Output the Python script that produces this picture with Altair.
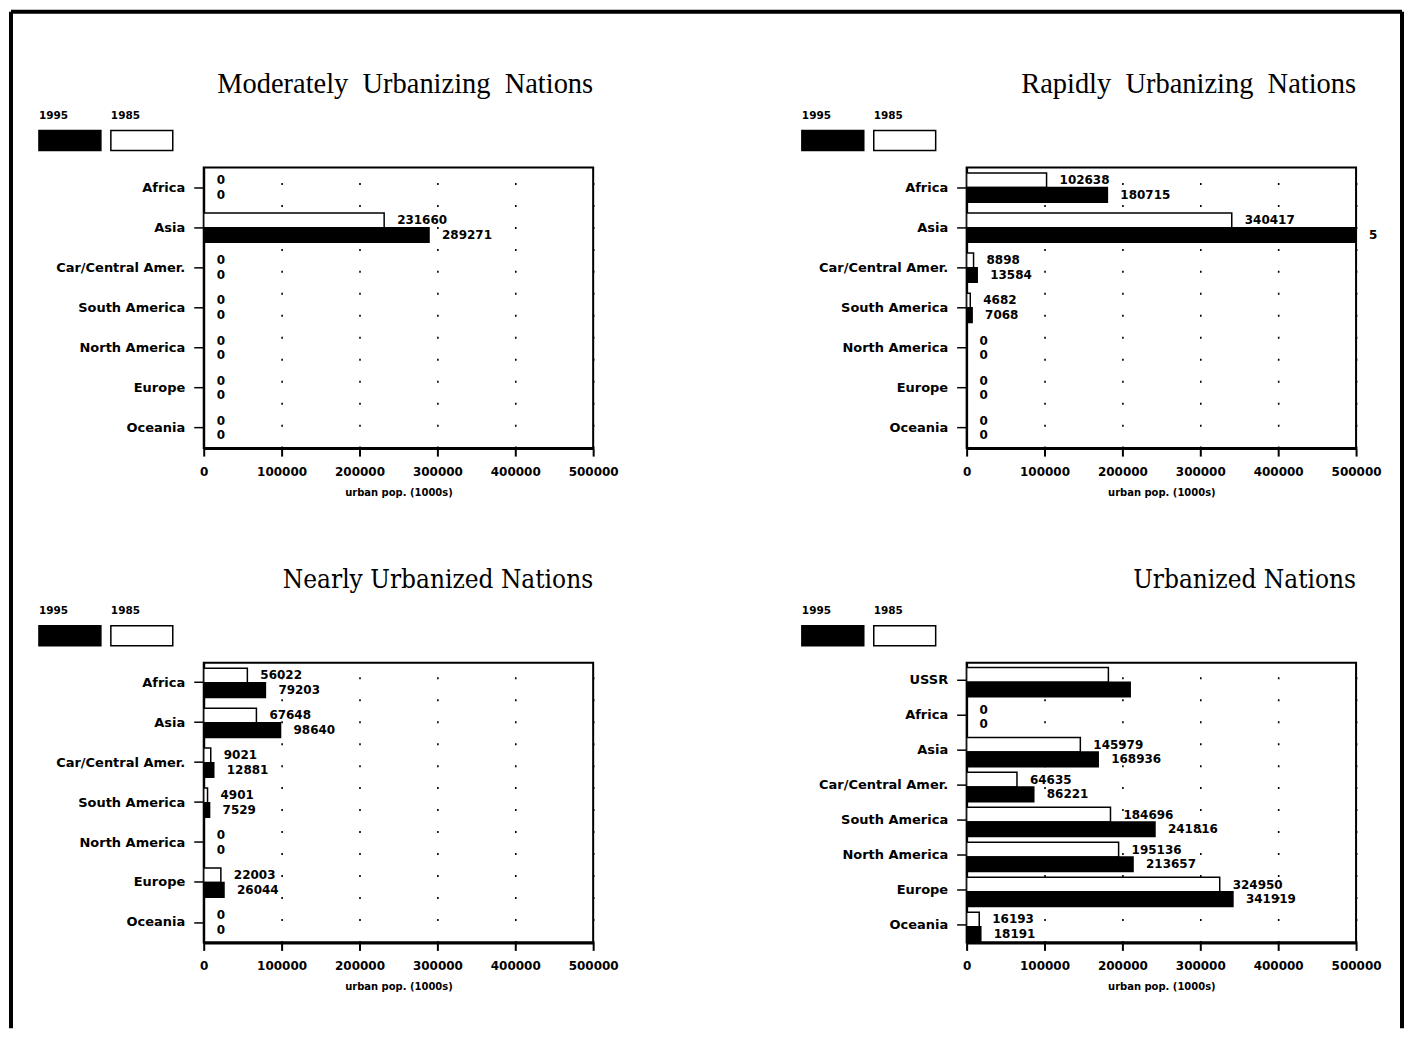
import altair as alt
import pandas as pd

# ---------------- data ----------------
regions = ["Africa", "Asia", "Car/Central Amer.", "South America",
           "North America", "Europe", "Oceania"]
regions_urbanized = ["USSR", "Africa", "Asia", "Car/Central Amer.",
                     "South America", "North America", "Europe", "Oceania"]
years = ["1985", "1995"]
legend_years = ["1995", "1985"]

titles = ["Moderately Urbanizing Nations", "Rapidly Urbanizing Nations",
          "Nearly Urbanized Nations", "Urbanized Nations"]

moderate_1985 = [0, 231660, 0, 0, 0, 0, 0]
moderate_1995 = [0, 289271, 0, 0, 0, 0, 0]
moderate_lab_1985 = ["0", "231660", "0", "0", "0", "0", "0"]
moderate_lab_1995 = ["0", "289271", "0", "0", "0", "0", "0"]

rapid_1985 = [102638, 340417, 8898, 4682, 0, 0, 0]
rapid_1995 = [180715, 520000, 13584, 7068, 0, 0, 0]   # Asia 1995 runs off the scale
rapid_lab_1985 = ["102638", "340417", "8898", "4682", "0", "0", "0"]
rapid_lab_1995 = ["180715", "5", "13584", "7068", "0", "0", "0"]

nearly_1985 = [56022, 67648, 9021, 4901, 0, 22003, 0]
nearly_1995 = [79203, 98640, 12881, 7529, 0, 26044, 0]
nearly_lab_1985 = ["56022", "67648", "9021", "4901", "0", "22003", "0"]
nearly_lab_1995 = ["79203", "98640", "12881", "7529", "0", "26044", "0"]

urban_1985 = [182000, 0, 145979, 64635, 184696, 195136, 324950, 16193]
urban_1995 = [210000, 0, 168936, 86221, 241816, 213657, 341919, 18191]
urban_lab_1985 = ["", "0", "145979", "64635", "184696", "195136", "324950", "16193"]
urban_lab_1995 = ["", "0", "168936", "86221", "241816", "213657", "341919", "18191"]

x_ticks = [0, 100000, 200000, 300000, 400000, 500000]
x_max = 500000

# ---------------- styling ----------------
LABEL_FONT = "DejaVu Sans"
TOP_TITLE_FONT = "Liberation Serif"
BOTTOM_TITLE_FONT = '"DejaVu Serif Condensed", "DejaVu Serif", serif'
W = 390


def wide(s):
    # the original title is typeset with generous word spacing
    return s.replace(" ", "\u00a0 ")


def x_axis():
    return alt.Axis(values=x_ticks, format="d", title="urban pop. (1000s)",
                    labelFont=LABEL_FONT, labelFontWeight="bold", labelFontSize=12,
                    labelColor="black", labelFlush=False, labelPadding=10,
                    titleFont=LABEL_FONT, titleFontWeight="bold", titleFontSize=10,
                    titleColor="black", titlePadding=10,
                    tickSize=8, tickWidth=2, tickColor="black",
                    domainColor="black", domainWidth=3,
                    grid=True, gridDash=[2, 20], gridColor="black",
                    gridWidth=1.6, gridOpacity=1)


def make_panel(title, title_font, title_size, cats, v85, v95, l85, l95,
               height, frame=False):
    rows = []
    for c, a, b, la, lb in zip(cats, v85, v95, l85, l95):
        rows.append({"region": c, "year": "1985", "value": a, "label": la})
        rows.append({"region": c, "year": "1995", "value": b, "label": lb})
    df = pd.DataFrame(rows)

    y_enc = alt.Y("region:N", sort=cats,
                  scale=alt.Scale(paddingInner=0.27, paddingOuter=0.135),
                  axis=alt.Axis(title=None, labelFont=LABEL_FONT,
                                labelFontWeight="bold", labelFontSize=13,
                                labelColor="black", labelPadding=9,
                                labelLimit=300, tickSize=10, tickWidth=1.5,
                                tickColor="black", domainColor="black",
                                domainWidth=2, grid=False))
    y_off = alt.YOffset("year:N", sort=years,
                        scale=alt.Scale(paddingInner=0, paddingOuter=0))

    bars = alt.Chart(df).mark_bar(clip=True, stroke="black", strokeWidth=1.5).encode(
        x=alt.X("value:Q", scale=alt.Scale(domain=[0, x_max], nice=False),
                axis=x_axis()),
        y=y_enc,
        yOffset=y_off,
        fill=alt.Fill("year:N", scale=alt.Scale(domain=years,
                                                range=["white", "black"]),
                      legend=None),
    )
    labels = alt.Chart(df).transform_calculate(
        xpos=f"min(datum.value, {x_max})"
    ).mark_text(align="left", baseline="middle", dx=13, font=LABEL_FONT,
                fontSize=12, fontWeight="bold", color="black").encode(
        x=alt.X("xpos:Q", scale=alt.Scale(domain=[0, x_max], nice=False),
                axis=x_axis()),
        y=y_enc,
        yOffset=y_off,
        text="label:N",
    )

    one = alt.Data(values=[{}])
    layers = [bars, labels]

    # panel title, right-aligned with the plot frame
    layers.append(alt.Chart(one).mark_text(
        text=title, align="right", baseline="alphabetic", font=title_font,
        fontSize=title_size, color="black").encode(
        x=alt.value(W), y=alt.value(-75)))

    # hand-made legend: label above a wide swatch
    for i, yr in enumerate(legend_years):
        x0 = -165 + i * 72
        fill = "black" if yr == "1995" else "white"
        layers.append(alt.Chart(one).mark_rect(fill=fill, stroke="black",
                                               strokeWidth=1.5).encode(
            x=alt.value(x0), x2=alt.value(x0 + 62),
            y=alt.value(-37), y2=alt.value(-17)))
        layers.append(alt.Chart(one).mark_text(
            text=yr, align="left", baseline="middle", font=LABEL_FONT,
            fontSize=10.5, fontWeight="bold", color="black").encode(
            x=alt.value(x0), y=alt.value(-52)))

    if frame:
        layers.append(alt.Chart(one).mark_rule(color="black", strokeWidth=4).encode(
            x=alt.value(-193), y=alt.value(-156), y2=alt.value(862)))
        layers.append(alt.Chart(one).mark_rule(color="black", strokeWidth=4).encode(
            x=alt.value(-193), x2=alt.value(1200), y=alt.value(-156)))
        layers.append(alt.Chart(one).mark_rule(color="black", strokeWidth=4).encode(
            x=alt.value(1200), y=alt.value(-156), y2=alt.value(862)))

    return alt.layer(*layers).properties(width=W, height=height)


p1 = make_panel(wide(titles[0]), TOP_TITLE_FONT, 28.5, regions, moderate_1985,
                moderate_1995, moderate_lab_1985, moderate_lab_1995, 281,
                frame=True)
p2 = make_panel(wide(titles[1]), TOP_TITLE_FONT, 28.5, regions, rapid_1985,
                rapid_1995, rapid_lab_1985, rapid_lab_1995, 281)
p3 = make_panel(titles[2], BOTTOM_TITLE_FONT, 26, regions, nearly_1985,
                nearly_1995, nearly_lab_1985, nearly_lab_1995, 280)
p4 = make_panel(titles[3], BOTTOM_TITLE_FONT, 26, regions_urbanized,
                urban_1985, urban_1995, urban_lab_1985, urban_lab_1995, 280)

chart = alt.concat(
    p1, p2, p3, p4, columns=2,
    spacing={"row": 215, "column": 374}, bounds="flush",
).properties(padding=0, background="white").configure_view(
    stroke="black", strokeWidth=2)

chart.save("out.html", embed_options={"renderer": "svg", "actions": False})
